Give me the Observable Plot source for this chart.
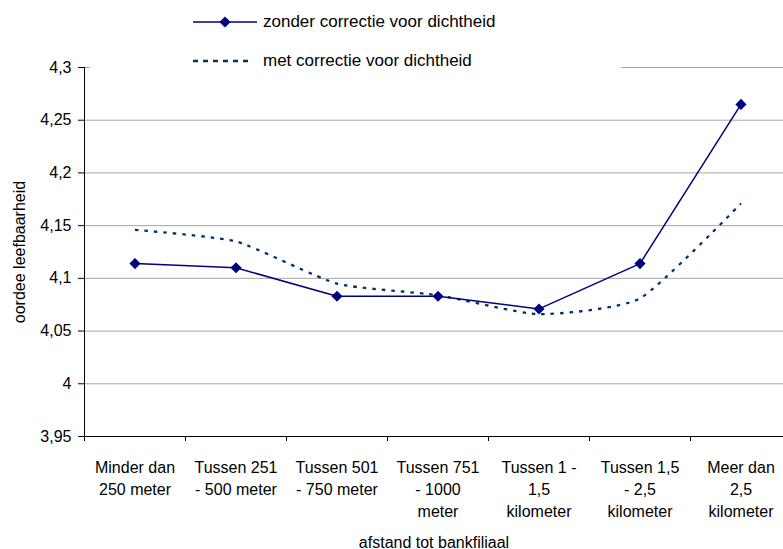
<!DOCTYPE html>
<html>
<head>
<meta charset="utf-8">
<script src="https://cdn.jsdelivr.net/npm/d3@7"></script>
<script src="https://cdn.jsdelivr.net/npm/@observablehq/plot@0.6"></script>
<style>
  html, body { margin: 0; padding: 0; background: #fff; }
  #wrap { position: relative; width: 783px; height: 549px; overflow: hidden; font-family: 'Liberation Sans', Arial, sans-serif; }
  #legend { position: absolute; left: 0; top: 0; }
</style>
</head>
<body>
<div id="wrap"></div>
<script>
// ---- data ----
const categories = [
  "Minder dan\n250 meter",
  "Tussen 251\n- 500 meter",
  "Tussen 501\n- 750 meter",
  "Tussen 751\n- 1000\nmeter",
  "Tussen 1 -\n1,5\nkilometer",
  "Tussen 1,5\n- 2,5\nkilometer",
  "Meer dan\n2,5\nkilometer"
];
const zonder = [4.114, 4.110, 4.083, 4.083, 4.071, 4.114, 4.265];
const met = [4.146, 4.135, 4.095, 4.084, 4.066, 4.081, 4.171];
const yTicks = [3.95, 4, 4.05, 4.1, 4.15, 4.2, 4.25, 4.3];
const seriesNames = ["zonder correctie voor dichtheid", "met correctie voor dichtheid"];
const xTitle = "afstand tot bankfiliaal";
const yTitle = "oordee leefbaarheid";

const rows = categories.map((c, i) => ({i, cat: c, zonder: zonder[i], met: met[i]}));
const idx = categories.map((c, i) => i);
const bounds = categories.map((c, i) => i - 0.5).concat([categories.length - 0.5]);

const chart = Plot.plot({
  width: 783,
  height: 549,
  marginLeft: 84,
  marginRight: 0,
  marginTop: 67,
  marginBottom: 113,
  style: {fontFamily: "'Liberation Sans', Arial, sans-serif", fontSize: "16px", color: "#000", background: "#fff"},
  x: {domain: [-0.5, categories.length - 0.5], range: [84, 791]},
  y: {domain: [3.95, 4.3]},
  marks: [
    Plot.gridY(yTicks.slice(1), {stroke: "#a6a6a6", strokeOpacity: 1, strokeWidth: 1}),
    Plot.ruleY([3.95], {stroke: "#000", strokeWidth: 1}),
    Plot.ruleX([-0.5], {stroke: "#000", strokeWidth: 1}),
    Plot.axisY(yTicks, {
      tickSize: 6, tickPadding: 7, fontSize: 16,
      tickFormat: d => String(d).replace(".", ","),
      label: yTitle, labelAnchor: "center", labelArrow: "none", labelOffset: 71
    }),
    Plot.axisX(bounds, {tickSize: 5, tickFormat: () => "", label: null}),
    Plot.axisX(idx, {
      tickSize: 0, tickPadding: 21, fontSize: 16, lineHeight: 1.375,
      tickFormat: i => categories[i],
      label: xTitle, labelAnchor: "center", labelArrow: "none", labelOffset: 111
    }),
    Plot.line(rows, {x: "i", y: "met", stroke: "#003366", strokeWidth: 2.3, strokeDasharray: "3.5,6",
      strokeLinecap: "butt", curve: "cardinal", tension: 0.45}),
    Plot.line(rows, {x: "i", y: "zonder", stroke: "#000080", strokeWidth: 1.5}),
    Plot.dot(rows, {x: "i", y: "zonder", symbol: "diamond2", r: 5, fill: "#000080", stroke: "none"})
  ]
});

const wrap = document.getElementById("wrap");
wrap.appendChild(chart);

// ---- legend overlay ----
const lg = d3.select(wrap).append("svg")
  .attr("id", "legend")
  .attr("width", 783).attr("height", 75)
  .style("font-family", "'Liberation Sans', Arial, sans-serif");
lg.append("rect").attr("x", 90).attr("y", 0).attr("width", 531).attr("height", 70).attr("fill", "#fff");
// solid
lg.append("line").attr("x1", 193).attr("x2", 257).attr("y1", 22).attr("y2", 22)
  .attr("stroke", "#000080").attr("stroke-width", 1.5);
lg.append("path").attr("d", d3.symbol(d3.symbolDiamond2, 80)()).attr("transform", "translate(225,22)")
  .attr("fill", "#000080");
lg.append("text").attr("x", 263).attr("y", 27).attr("font-size", 17).attr("fill", "#000").text(seriesNames[0]);
// dashed
lg.append("line").attr("x1", 193).attr("x2", 253).attr("y1", 61).attr("y2", 61)
  .attr("stroke", "#003366").attr("stroke-width", 2.3).attr("stroke-dasharray", "5,5");
lg.append("text").attr("x", 263).attr("y", 66).attr("font-size", 17).attr("fill", "#000").text(seriesNames[1]);
</script>
</body>
</html>
